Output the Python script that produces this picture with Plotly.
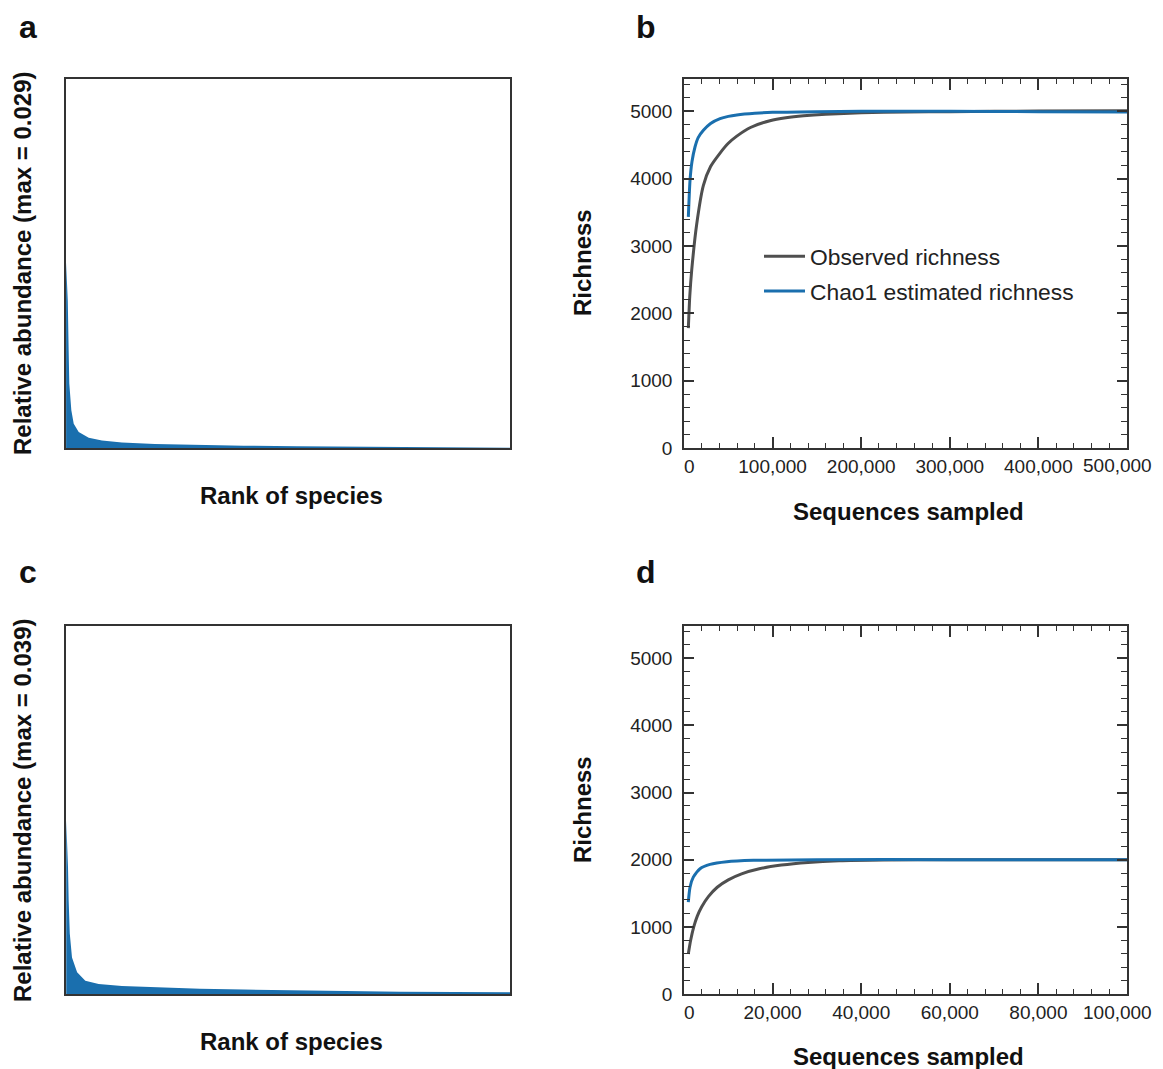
import plotly.graph_objects as go

W, H = 1163, 1069          # browser window
OFF = 8                    # default page body margin
FW, FH = W, H - OFF        # figure size

# ---------------- data ----------------
# Panel a: rank-abundance (max = 0.029), ~5000 species
rank_a = [1, 5, 10, 20, 30, 37, 60, 87, 143, 256, 405, 630, 1000, 1500, 2000, 2600, 3200, 3900, 4500, 5000]
abund_a = [0.029, 0.0275, 0.026, 0.023, 0.0152, 0.0101, 0.0059, 0.0038, 0.0025, 0.0016, 0.00117,
           0.00086, 0.00063, 0.00047, 0.00036, 0.00027, 0.00019, 0.00011, 0.00006, 0.00002]

# Panel c: rank-abundance (max = 0.039), ~2000 species
rank_c = [1, 5, 9, 12, 17, 27, 50, 87, 147, 252, 400, 603, 800, 1054, 1300, 1505, 1750, 2000]
abund_c = [0.039, 0.034, 0.0285, 0.021, 0.0136, 0.0082, 0.0049, 0.0030, 0.00225, 0.0018, 0.0015,
           0.0012, 0.0010, 0.00077, 0.00062, 0.00052, 0.00045, 0.0004]

# Panel b: rarefaction curves
seq_b_obs = [4900, 6500, 8700, 14400, 21900, 30000, 40700, 50000, 59600, 75000, 97000, 115000,
             135000, 160000, 200000, 250000, 300000, 400000, 500000]
rich_b_obs = [1780, 2250, 2640, 3330, 3900, 4180, 4380, 4525, 4632, 4760, 4860, 4905,
              4935, 4958, 4978, 4990, 4995, 5005, 5010]
seq_b_chao = [4900, 6800, 9000, 12400, 16000, 21900, 30000, 40700, 50000, 59600, 80000, 100000,
              150000, 200000, 300000, 400000, 500000]
rich_b_chao = [3432, 3976, 4250, 4470, 4610, 4718, 4820, 4892, 4925, 4945, 4970, 4985,
               4995, 5000, 5000, 4995, 4990]

# Panel d: rarefaction curves
seq_d_obs = [970, 1500, 2200, 3000, 4000, 5500, 7500, 10000, 13000, 17000, 22000, 28000, 35000,
             45000, 60000, 80000, 100000]
rich_d_obs = [597, 800, 1000, 1160, 1300, 1450, 1590, 1700, 1790, 1865, 1920, 1960, 1985,
              1996, 2000, 2001, 2000]
seq_d_chao = [970, 1360, 2100, 3620, 5880, 9660, 15680, 30000, 60000, 100000]
rich_d_chao = [1367, 1591, 1740, 1866, 1930, 1970, 1990, 2000, 2001, 1998]

xticks_b = [0, 100000, 200000, 300000, 400000, 500000]
xlabels_b = ["0", "100,000", "200,000", "300,000", "400,000", "500,000"]
xticks_d = [0, 20000, 40000, 60000, 80000, 100000]
xlabels_d = ["0", "20,000", "40,000", "60,000", "80,000", "100,000"]
yticks_r = [0, 1000, 2000, 3000, 4000, 5000]

# ---------------- styling ----------------
BLUE = "#1a6fae"
GRAY = "#4f4f4f"
AXC = "#333333"
TXT = "#222222"
FONT = "Liberation Sans, Arial, Helvetica, sans-serif"
NB = "\u00a0"


def px_x(p):
    return (p - OFF) / FW


def px_y(p):
    return 1 - (p - OFF) / FH


def tick_text(labels):
    # first label sits a little right of its tick; the last one is drawn separately
    # (right-aligned) so that it stays inside the visible page
    out = list(labels)
    out[0] = NB * 2 + out[0]
    out[-1] = ""
    return out


xa = [px_x(66), px_x(510)]
xb = [px_x(684), px_x(1127)]
ytop = [px_y(448), px_y(79)]
ybot = [px_y(994), px_y(626)]

fig = go.Figure()

# Panel a
fig.add_trace(go.Scatter(x=rank_a, y=abund_a, mode="lines", fill="tozeroy",
                         line=dict(width=0, color=BLUE), fillcolor=BLUE,
                         showlegend=False, xaxis="x", yaxis="y", hoverinfo="skip"))
# Panel b
fig.add_trace(go.Scatter(x=seq_b_obs, y=rich_b_obs, mode="lines", name="Observed richness",
                         line=dict(width=3, color=GRAY, shape="spline", smoothing=0.6),
                         xaxis="x2", yaxis="y2", legendgroup="g1"))
fig.add_trace(go.Scatter(x=seq_b_chao, y=rich_b_chao, mode="lines", name="Chao1 estimated richness",
                         line=dict(width=3, color=BLUE, shape="spline", smoothing=0.6),
                         xaxis="x2", yaxis="y2", legendgroup="g2"))
# Panel c
fig.add_trace(go.Scatter(x=rank_c, y=abund_c, mode="lines", fill="tozeroy",
                         line=dict(width=0, color=BLUE), fillcolor=BLUE,
                         showlegend=False, xaxis="x3", yaxis="y3", hoverinfo="skip"))
# Panel d
fig.add_trace(go.Scatter(x=seq_d_obs, y=rich_d_obs, mode="lines",
                         line=dict(width=3, color=GRAY, shape="spline", smoothing=0.6),
                         xaxis="x4", yaxis="y4", showlegend=False))
fig.add_trace(go.Scatter(x=seq_d_chao, y=rich_d_chao, mode="lines",
                         line=dict(width=3, color=BLUE, shape="spline", smoothing=0.6),
                         xaxis="x4", yaxis="y4", showlegend=False))

box = dict(showline=True, linecolor=AXC, linewidth=1.5, mirror=True, showgrid=False,
           zeroline=False, ticks="", showticklabels=False, automargin=False)

tickfont = dict(family=FONT, size=19, color=TXT)


def rich_x(tv, tt, rng, anchor, dom):
    return dict(domain=dom, range=rng, anchor=anchor, showline=True, linecolor=AXC, linewidth=1.5,
                mirror="ticks", showgrid=False, zeroline=False, ticks="inside", ticklen=11,
                tickwidth=1.5, tickcolor=AXC, tickvals=tv, ticktext=tick_text(tt), tickfont=tickfont,
                ticklabelstandoff=0, automargin=False,
                minor=dict(dtick=tv[1] / 5, ticks="inside", ticklen=5, tickwidth=1.2, tickcolor=AXC,
                           showgrid=False))


def rich_y(anchor, dom):
    return dict(domain=dom, range=[0, 5480], anchor=anchor, showline=True, linecolor=AXC, linewidth=1.5,
                mirror="ticks", showgrid=False, zeroline=False, ticks="inside", ticklen=10,
                tickwidth=1.5, tickcolor=AXC, tickvals=yticks_r, tickformat="d", tickfont=tickfont,
                ticklabelstandoff=6, automargin=False,
                minor=dict(dtick=200, ticks="inside", ticklen=6, tickwidth=1.2, tickcolor=AXC,
                           showgrid=False))


fig.update_layout(
    width=FW, height=FH, autosize=False,
    margin=dict(l=0, r=0, t=0, b=0, pad=0, autoexpand=False),
    paper_bgcolor="white", plot_bgcolor="white",
    font=dict(family=FONT, color=TXT),
    xaxis=dict(box, domain=xa, range=[0, 5000], anchor="y"),
    yaxis=dict(box, domain=ytop, range=[0, 0.0577], anchor="x"),
    xaxis2=rich_x(xticks_b, xlabels_b, [0, 500000], "y2", xb),
    yaxis2=rich_y("x2", ytop),
    xaxis3=dict(box, domain=xa, range=[0, 2000], anchor="y3"),
    yaxis3=dict(box, domain=ybot, range=[0, 0.0827], anchor="x3"),
    xaxis4=rich_x(xticks_d, xlabels_d, [0, 100000], "y4", xb),
    yaxis4=rich_y("x4", ybot),
    legend=dict(x=px_x(759), y=px_y(235), xanchor="left", yanchor="top",
                font=dict(family=FONT, size=22.8, color=TXT),
                bgcolor="rgba(0,0,0,0)", itemwidth=41, tracegroupgap=2,
                traceorder="grouped"),
    showlegend=True,
)

ann = []


def add_text(txt, x, y, size, angle=0, xanchor="center", color="#111111"):
    ann.append(dict(text=txt, x=px_x(x), y=px_y(y), xref="paper", yref="paper",
                    xanchor=xanchor, yanchor="middle", showarrow=False, textangle=angle,
                    font=dict(family=FONT, size=size, color=color)))


# last x tick labels of b and d, right-aligned at the page edge
add_text(xlabels_b[-1], 1154, 466, 19, xanchor="right", color=TXT)
add_text(xlabels_d[-1], 1154, 1012, 19, xanchor="right", color=TXT)

add_text("<b>a</b>", 28, 27, 32)
add_text("<b>b</b>", 646, 27, 32)
add_text("<b>c</b>", 28, 572, 32)
add_text("<b>d</b>", 646, 572, 32)
add_text("<b>Relative abundance (max = 0.029)</b>", 22, 263, 24, -90)
add_text("<b>Relative abundance (max = 0.039)</b>", 22, 810, 24, -90)
add_text("<b>Rank of species</b>", 291, 495, 24)
add_text("<b>Rank of species</b>", 291, 1041, 24)
add_text("<b>Richness</b>", 582, 263, 24, -90)
add_text("<b>Richness</b>", 582, 810, 24, -90)
add_text("<b>Sequences sampled</b>", 908, 511, 24)
add_text("<b>Sequences sampled</b>", 908, 1056, 24)

fig.update_layout(annotations=ann)

fig.write_html("out.html")
